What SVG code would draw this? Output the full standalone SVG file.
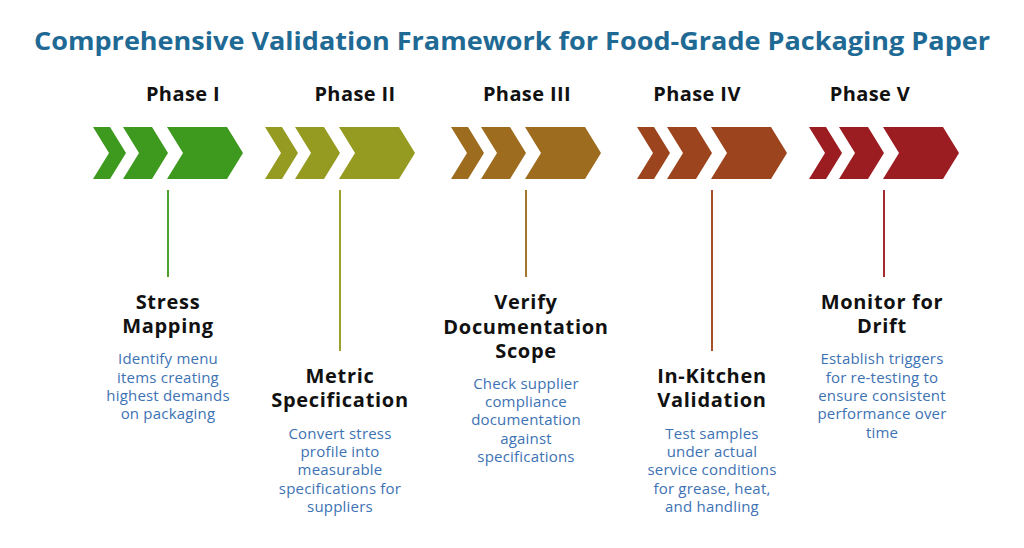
<svg xmlns="http://www.w3.org/2000/svg" width="1024" height="548" viewBox="0 0 1024 548">
<defs>
<style>
.title{font-family:"Open Sans","Liberation Sans",sans-serif;font-weight:700;font-size:25px;fill:#1f6a94}
.ph{font-family:"Open Sans","Liberation Sans",sans-serif;font-weight:700;font-size:20px;fill:#111;text-anchor:middle;letter-spacing:0.4px}
.nt{font-family:"Open Sans","Liberation Sans",sans-serif;font-weight:700;font-size:20px;fill:#111;text-anchor:middle;letter-spacing:0.7px}
.ds{font-family:"Open Sans","Liberation Sans",sans-serif;font-size:15px;fill:#3d72b4;text-anchor:middle;letter-spacing:0.2px}
.ln{stroke-width:2;fill:none}
</style>
<g id="chev">
<polygon points="0,0 17,0 33,26 17,52 0,52 16,26"/>
<polygon points="30,0 59,0 75,26 59,52 30,52 46,26"/>
<polygon points="74,0 134,0 150,26 134,52 74,52 90,26"/>
</g>
</defs>
<rect width="1024" height="548" fill="#fff"/>
<text class="title" x="34" y="50" textLength="956" lengthAdjust="spacingAndGlyphs">Comprehensive Validation Framework for Food-Grade Packaging Paper</text>

<g id="connectors">
<line class="ln" x1="168" y1="190" x2="168" y2="277" stroke="#4ea02e"/>
<line class="ln" x1="340" y1="190" x2="340" y2="351" stroke="#9ca02c"/>
<line class="ln" x1="526" y1="190" x2="526" y2="277" stroke="#a4752c"/>
<line class="ln" x1="712" y1="190" x2="712" y2="351" stroke="#a4502c"/>
<line class="ln" x1="884" y1="190" x2="884" y2="277" stroke="#a22c30"/>
</g>

<g id="phase1">
<text class="ph" x="183" y="101">Phase I</text>
<use href="#chev" x="93" y="127" fill="#3d9a1f"/>
<text class="nt" x="168" y="309">Stress</text>
<text class="nt" x="168" y="333">Mapping</text>
<text class="ds" x="168" y="364">Identify menu</text>
<text class="ds" x="168" y="383">items creating</text>
<text class="ds" x="168" y="401">highest demands</text>
<text class="ds" x="168" y="419">on packaging</text>
</g>

<g id="phase2">
<text class="ph" x="355" y="101">Phase II</text>
<use href="#chev" x="265" y="127" fill="#959b21"/>
<text class="nt" x="340" y="383">Metric</text>
<text class="nt" x="340" y="407">Specification</text>
<text class="ds" x="340" y="439">Convert stress</text>
<text class="ds" x="340" y="457">profile into</text>
<text class="ds" x="340" y="475">measurable</text>
<text class="ds" x="340" y="494">specifications for</text>
<text class="ds" x="340" y="512">suppliers</text>
</g>

<g id="phase3">
<text class="ph" x="527" y="101">Phase III</text>
<use href="#chev" x="451" y="127" fill="#9e6c1f"/>
<text class="nt" x="526" y="309">Verify</text>
<text class="nt" x="526" y="334">Documentation</text>
<text class="nt" x="526" y="358">Scope</text>
<text class="ds" x="526" y="389">Check supplier</text>
<text class="ds" x="526" y="407">compliance</text>
<text class="ds" x="526" y="425">documentation</text>
<text class="ds" x="526" y="444">against</text>
<text class="ds" x="526" y="462">specifications</text>
</g>

<g id="phase4">
<text class="ph" x="697" y="101">Phase IV</text>
<use href="#chev" x="637" y="127" fill="#9c441d"/>
<text class="nt" x="712" y="383">In-Kitchen</text>
<text class="nt" x="712" y="407">Validation</text>
<text class="ds" x="712" y="439">Test samples</text>
<text class="ds" x="712" y="457">under actual</text>
<text class="ds" x="712" y="475">service conditions</text>
<text class="ds" x="712" y="494">for grease, heat,</text>
<text class="ds" x="712" y="512">and handling</text>
</g>

<g id="phase5">
<text class="ph" x="870" y="101">Phase V</text>
<use href="#chev" x="809" y="127" fill="#9b1d21"/>
<text class="nt" x="882" y="309">Monitor for</text>
<text class="nt" x="882" y="333">Drift</text>
<text class="ds" x="882" y="364">Establish triggers</text>
<text class="ds" x="882" y="383">for re-testing to</text>
<text class="ds" x="882" y="401">ensure consistent</text>
<text class="ds" x="882" y="419">performance over</text>
<text class="ds" x="882" y="438">time</text>
</g>
</svg>
